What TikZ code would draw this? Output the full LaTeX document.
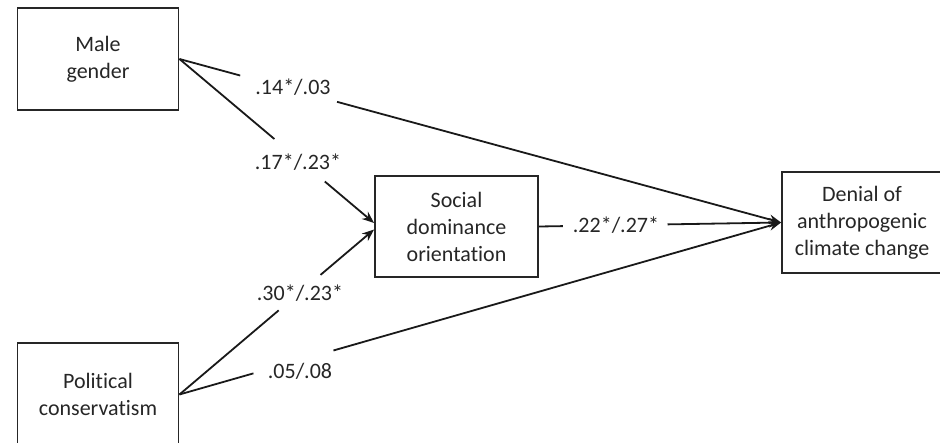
\documentclass[tikz,border=0pt]{standalone}
\usepackage{fontspec}
\setmainfont{Carlito}[Ligatures={TeX,NoCommon}]
\usetikzlibrary{arrows.meta,calc}
\begin{document}
\begin{tikzpicture}[x=1pt,y=-1pt,
  box/.style={draw=black!85, line width=1.9pt, align=center, inner sep=0pt, text=black!85, font=\fontsize{22}{27}\selectfont},
  lab/.style={text=black!85, font=\fontsize{22}{27}\selectfont, inner sep=0pt},
  conn/.style={draw=black!90, line width=1.8pt},
  arr/.style={conn, -{Stealth[length=12pt,width=9.5pt]}}]
\useasboundingbox (0,0) rectangle (940,442);
% boxes
\node[box, minimum width=161pt, minimum height=102pt] (male) at (98,59) {Male\\gender};
\node[box, minimum width=161pt, minimum height=103pt] (pol) at (98,394.5) {Political\\conservatism};
\node[box, minimum width=163pt, minimum height=101pt] (soc) at (456.5,226.5) {Social\\dominance\\orientation};
\node[box, minimum width=160pt, minimum height=101pt] (den) at (862,222.5) {Denial of\\anthropogenic\\climate change};
% arrow end points on the mediator
\coordinate (socA) at ($(soc.west)+(0,-3.5)$);
\coordinate (socB) at ($(soc.west)+(0,3)$);
% labels
\node[lab] (l14) at (293,87) {.14*/.03};
\node[lab] (l17) at (298,162) {.17*/.23*};
\node[lab] (l30) at (300,293) {.30*/.23*};
\node[lab] (l05) at (300,371) {.05/.08};
\node[lab] (l22) at (616,225) {.22*/.27*};
% connectors (drawn with gaps for the labels)
\draw[conn] (male.east) -- ($(male.east)!0.101!(den.west)$);
\draw[arr] ($(male.east)!0.262!(den.west)$) -- (den.west);
\draw[conn] (male.east) -- ($(male.east)!0.488!(socA)$);
\draw[arr] ($(male.east)!0.747!(socA)$) -- (socA);
\draw[conn] (pol.east) -- ($(pol.east)!0.51!(socB)$);
\draw[arr] ($(pol.east)!0.725!(socB)$) -- (socB);
\draw[conn] (pol.east) -- ($(pol.east)!0.123!(den.west)$);
\draw[arr] ($(pol.east)!0.256!(den.west)$) -- (den.west);
\draw[conn] (soc.east) -- ($(soc.east)!0.099!(den.west)$);
\draw[arr] ($(soc.east)!0.531!(den.west)$) -- (den.west);
\end{tikzpicture}
\end{document}
